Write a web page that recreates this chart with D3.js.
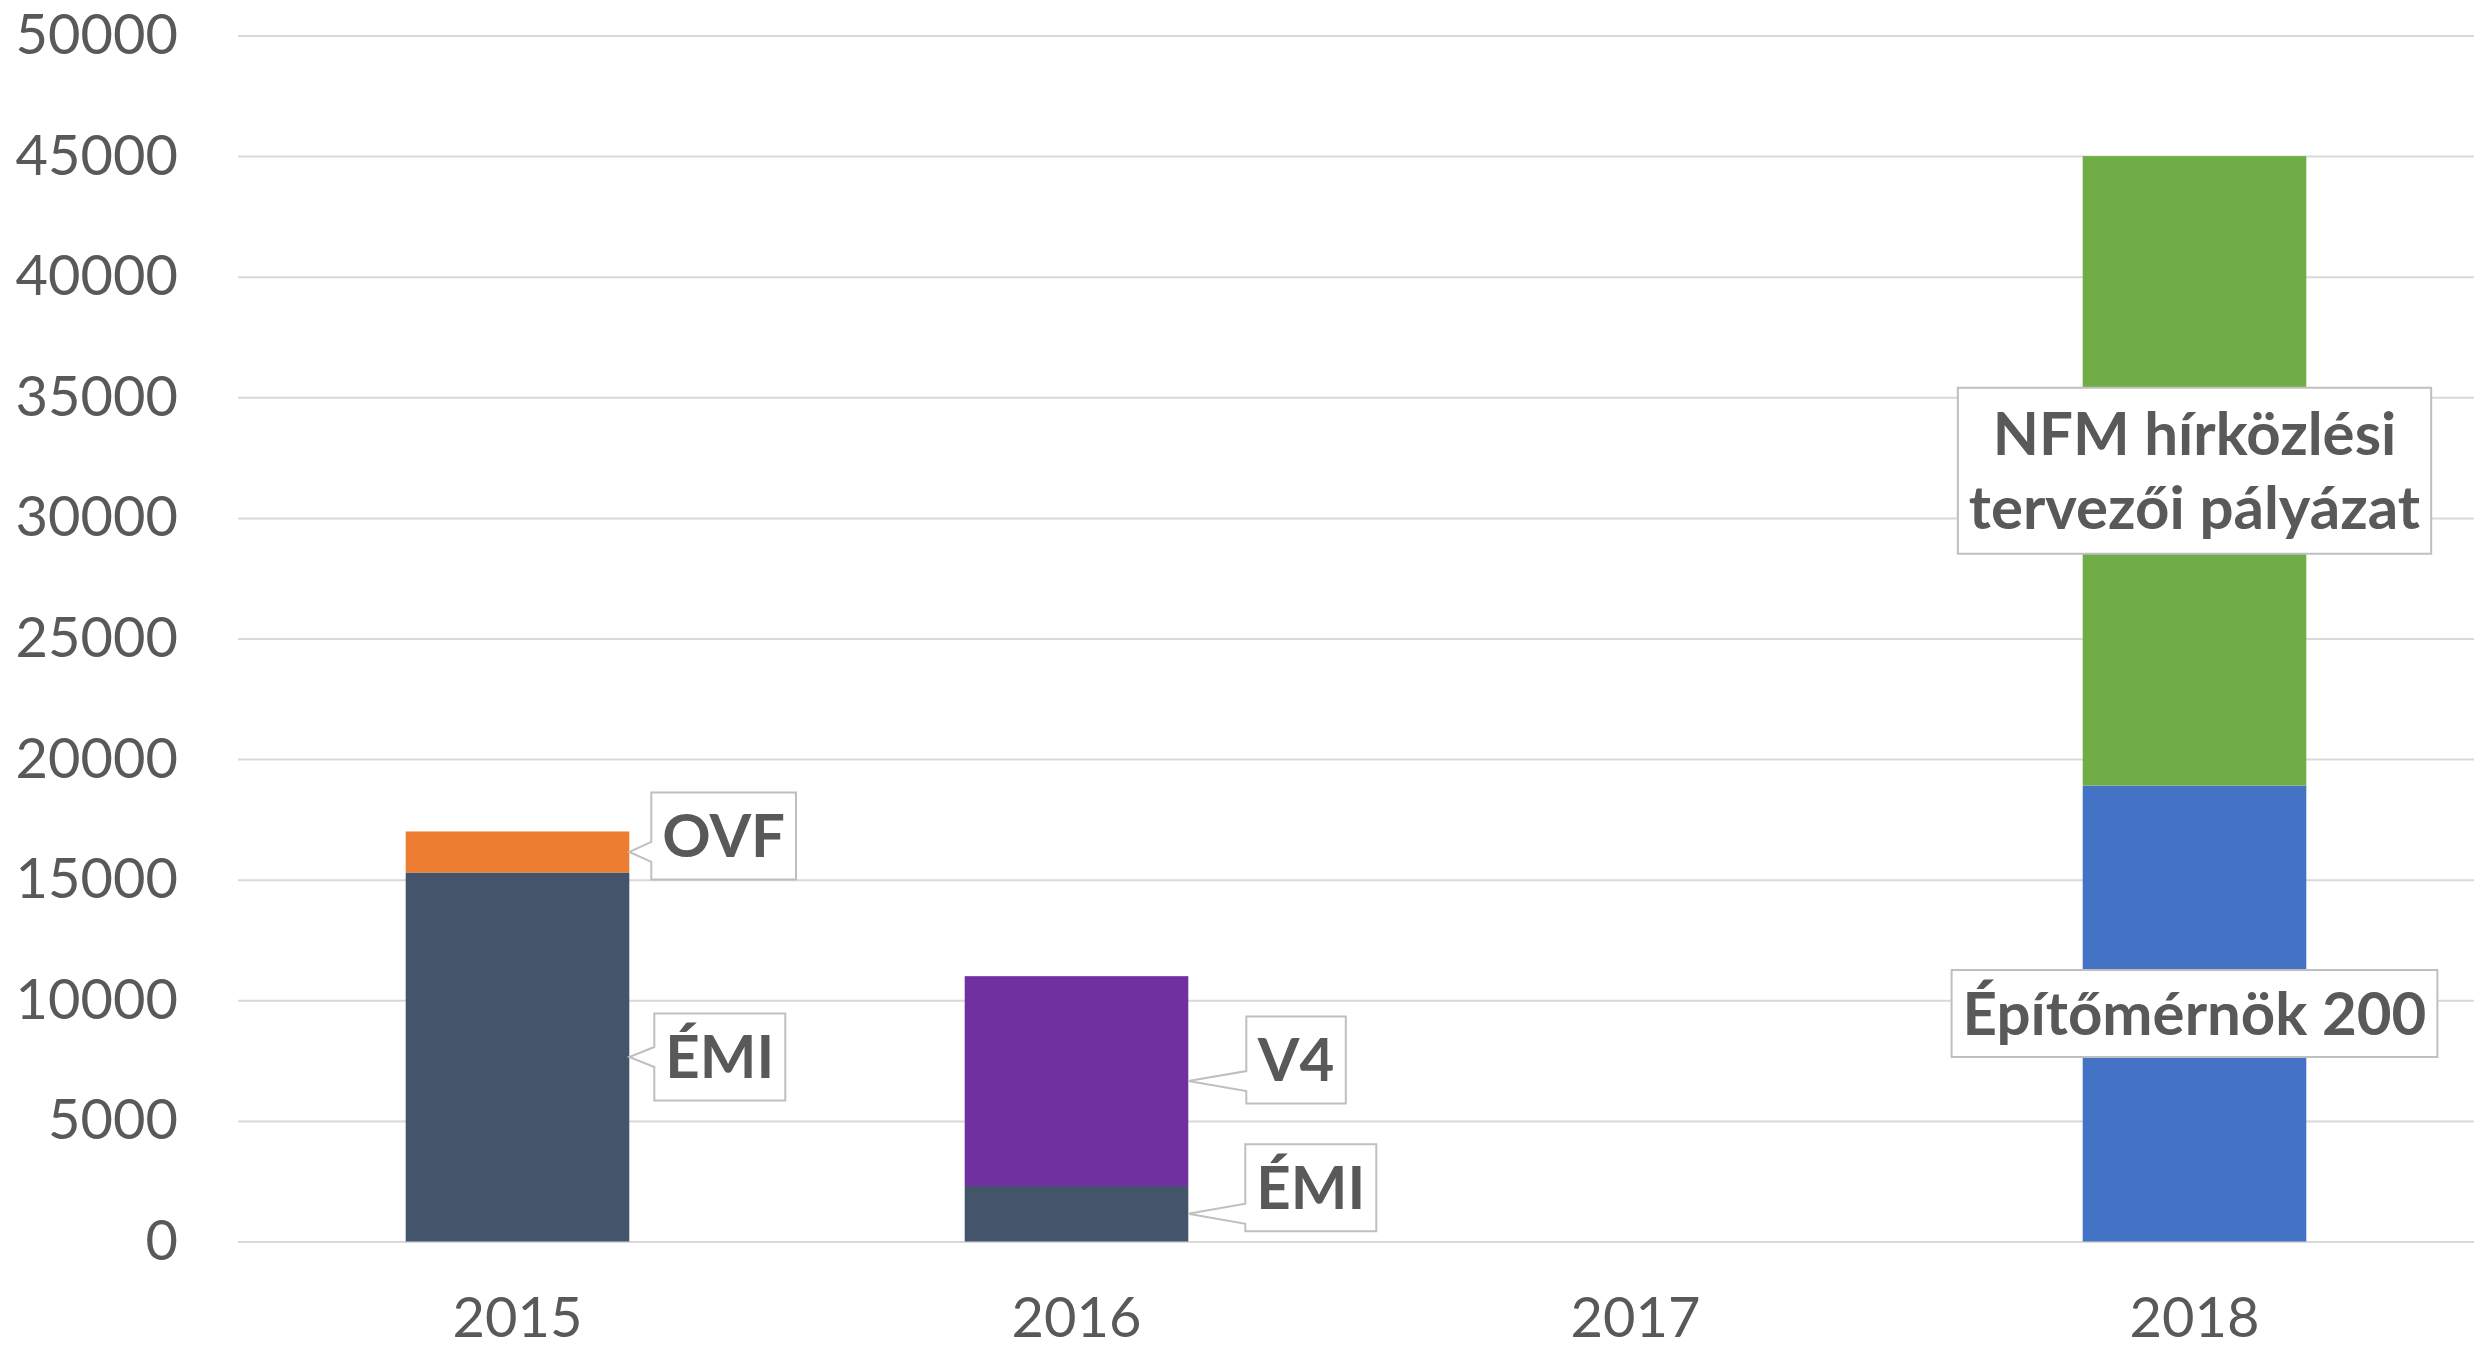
<!DOCTYPE html>
<html>
<head>
<meta charset="utf-8">
<script src="https://cdn.jsdelivr.net/npm/d3@7"></script>
<style>
  html, body { margin: 0; padding: 0; background: #fff; }
  svg { display: block; }
</style>
</head>
<body>
<script>
// data
var categories = ['2015', '2016', '2017', '2018'];
var seriesNames = ['ÉMI', 'OVF', 'V4', 'Építőmérnök 200', 'NFM hírközlési tervezői pályázat'];
var emi = [15300, 2300, 0, 0];
var ovf = [1700, 0, 0, 0];
var v4 = [0, 8700, 0, 0];
var epitomernok = [0, 0, 0, 18900];
var nfm = [0, 0, 0, 26100];
var yTicks = [0, 5000, 10000, 15000, 20000, 25000, 30000, 35000, 40000, 45000, 50000];
var colors = ['#44546a', '#ed7d31', '#7030a0', '#4472c4', '#70ad47'];

// callouts: which segment, text lines, and where the box sits
var callouts = [
    { series: 1, cat: '2015', lines: ['OVF'], mode: 'side', dx: 22, dy: -16 },
    { series: 0, cat: '2015', lines: ['ÉMI'], mode: 'side', dx: 25, dy: 0 },
    { series: 2, cat: '2016', lines: ['V4'], mode: 'side', dx: 58, dy: -21 },
    { series: 0, cat: '2016', lines: ['ÉMI'], mode: 'side', dx: 57, dy: -26 },
    { series: 4, cat: '2018', lines: ['NFM hírközlési', 'tervezői pályázat'], mode: 'center' },
    { series: 3, cat: '2018', lines: ['Építőmérnök 200'], mode: 'center' }
];

var W = 2476, H = 1350;
var margin = { top: 35.5, right: 2, bottom: 108.5, left: 238 };

var svg = d3.select('body').append('svg')
    .attr('width', W)
    .attr('height', H);

var table = categories.map(function (c, i) {
    return { cat: c, 0: emi[i], 1: ovf[i], 2: v4[i], 3: epitomernok[i], 4: nfm[i] };
});
var stacked = d3.stack().keys([0, 1, 2, 3, 4])(table);

var x = d3.scaleBand()
    .domain(categories)
    .range([margin.left, W - margin.right])
    .paddingInner(0.6)
    .paddingOuter(0.3);

var y = d3.scaleLinear()
    .domain([0, 50000])
    .range([H - margin.bottom, margin.top]);

// y axis with gridlines
var yAxis = svg.append('g')
    .attr('transform', 'translate(' + margin.left + ',0)')
    .call(d3.axisLeft(y).tickValues(yTicks).tickFormat(d3.format('d'))
        .tickSize(-(W - margin.right - margin.left)).tickPadding(60));
yAxis.select('.domain').remove();
yAxis.selectAll('line').attr('stroke', '#d9d9d9').attr('stroke-width', 2);
yAxis.selectAll('text')
    .attr('fill', '#595959')
    .style('font-family', 'Lato, "Open Sans", sans-serif')
    .style('font-size', '56px');

// x axis labels
var xAxis = svg.append('g')
    .attr('transform', 'translate(0,' + (H - margin.bottom) + ')')
    .call(d3.axisBottom(x).tickSize(0).tickPadding(56));
xAxis.select('.domain').remove();
xAxis.selectAll('text')
    .attr('fill', '#595959')
    .style('font-family', 'Lato, "Open Sans", sans-serif')
    .style('font-size', '56px');

// bars
svg.append('g')
    .selectAll('g')
    .data(stacked)
    .enter()
    .append('g')
    .attr('fill', function (d, i) { return colors[i]; })
    .selectAll('rect')
    .data(function (d) { return d; })
    .enter()
    .append('rect')
    .attr('x', function (d) { return x(d.data.cat); })
    .attr('y', function (d) { return y(d[1]); })
    .attr('width', x.bandwidth())
    .attr('height', function (d) { return y(d[0]) - y(d[1]); });

// callouts
var fontSize = 60, lineH = 74, pad = 11;
var lab = svg.append('g');
callouts.forEach(function (c) {
    var ci = categories.indexOf(c.cat);
    var seg = stacked[c.series][ci];
    var midY = y((seg[0] + seg[1]) / 2);
    var g = lab.append('g');
    var shape = g.append('path')
        .attr('fill', '#fff')
        .attr('stroke', '#bfbfbf')
        .attr('stroke-width', 2);
    var t = g.append('text')
        .attr('text-anchor', 'middle')
        .attr('fill', '#595959')
        .style('font-family', 'Lato, "Open Sans", sans-serif')
        .style('font-weight', 700)
        .style('font-size', fontSize + 'px');
    var n = c.lines.length;
    c.lines.forEach(function (l, k) {
        t.append('tspan').attr('x', 0).attr('y', (k - (n - 1) / 2) * lineH + 21).text(l);
    });
    var tw = t.node().getBBox().width;
    var bw = tw + 2 * pad, bh = 87 + (n - 1) * 79;
    var cx, cy;
    if (c.mode === 'side') {
        var tipX = x(c.cat) + x.bandwidth();
        cx = tipX + c.dx + bw / 2;
        cy = midY + c.dy;
    } else {
        cx = x(c.cat) + x.bandwidth() / 2;
        cy = midY;
    }
    t.attr('transform', 'translate(' + cx + ',' + cy + ')');
    var L = cx - bw / 2, R = cx + bw / 2, T = cy - bh / 2, B = cy + bh / 2;
    var p;
    if (c.mode === 'side') {
        var bc = Math.max(T + 14, Math.min(B - 14, midY));
        p = 'M' + L + ',' + T + 'H' + R + 'V' + B + 'H' + L +
            'V' + (bc + 10) + 'L' + tipX + ',' + midY + 'L' + L + ',' + (bc - 10) + 'Z';
    } else {
        p = 'M' + L + ',' + T + 'H' + R + 'V' + B + 'H' + L + 'Z';
    }
    shape.attr('d', p);
});
</script>
</body>
</html>
